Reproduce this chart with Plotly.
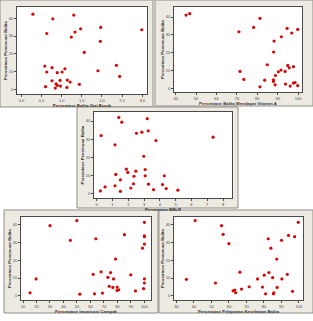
import plotly.graph_objects as go

W, H = 313, 321

# ---------- data ----------
y_label = "Persentase Penemuan Balita"

gizi_buruk_x = [0.285, 1.30, 0.78, 0.63, 1.47, 1.97, 1.33, 1.24, 1.96, 2.99, 1.56, 0.58, 0.76, 0.63, 0.89, 1.01,
                1.08, 1.90, 2.36, 2.44, 0.76, 0.96, 1.14, 1.21, 0.86, 0.89, 0.84, 0.97, 0.60, 1.13, 1.44]
gizi_buruk_y = [42.2, 41.7, 39.6, 31.4, 34.0, 34.8, 32.2, 29.4, 27.0, 33.5, 20.8, 13.2, 12.3, 9.9, 9.5, 9.9,
                11.7, 10.6, 13.6, 7.4, 5.0, 5.2, 5.4, 4.3, 3.3, 2.4, 0.9, 2.0, 1.7, 1.3, 3.0]

vitamin_a_x = [45.1, 46.9, 81.3, 78.2, 71.0, 94.6, 96.9, 99.8, 91.8, 88.2, 88.0, 84.9, 71.5, 73.4, 83.6, 87.9,
               87.9, 88.9, 90.3, 91.6, 93.6, 94.9, 95.6, 97.7, 81.3, 88.7, 93.8, 96.1, 97.7, 98.5, 99.8]
vitamin_a_y = [41.1, 41.9, 39.3, 34.2, 31.8, 33.7, 31.1, 33.1, 29.0, 26.6, 20.5, 13.4, 9.7, 5.2, 4.8, 5.0,
               4.1, 7.4, 9.5, 10.4, 9.7, 13.0, 11.7, 12.3, 1.1, 2.2, 2.6, 1.5, 3.2, 3.5, 1.7]

bblr_x = [1.40, 3.20, 1.59, 0.28, 2.52, 2.86, 3.26, 3.75, 1.16, 7.37, 2.98, 1.88, 1.97, 2.48, 1.21, 2.36,
          3.07, 3.07, 4.28, 1.50, 2.33, 3.28, 4.17, 1.16, 0.53, 2.16, 4.40, 0.23, 1.50, 3.60, 5.14]
bblr_y = [42.0, 41.3, 39.4, 32.0, 33.3, 33.9, 34.6, 29.3, 26.9, 31.1, 20.6, 13.5, 11.7, 12.4, 10.6, 9.6,
          13.3, 9.8, 9.8, 7.6, 5.4, 5.2, 5.0, 4.3, 3.7, 3.1, 2.8, 1.5, 1.3, 2.2, 1.9]

campak_x = [49.9, 30.0, 100, 85.2, 100, 100, 45.1, 64.0, 100, 98.6, 78.6, 74.9, 67.9, 62.0, 89.9, 72.9,
            77.1, 19.7, 100, 100, 73.9, 76.6, 79.8, 79.8, 81.0, 93.4, 99.4, 15.2, 52.1, 63.0, 68.9]
campak_y = [42.5, 39.6, 41.5, 34.5, 33.9, 33.4, 31.3, 32.2, 29.2, 26.9, 20.7, 13.1, 13.5, 12.1, 11.8, 10.4,
            9.5, 9.5, 9.5, 7.2, 5.3, 4.7, 4.9, 3.0, 3.4, 2.7, 4.0, 1.7, 0.9, 1.1, 1.5]

pelayanan_x = [40.7, 99.7, 55.8, 56.7, 60.0, 82.5, 90.1, 94.1, 97.6, 84.0, 87.4, 66.3, 82.9, 80.2, 93.4, 85.0,
               76.4, 90.3, 35.7, 52.3, 71.6, 79.2, 87.6, 67.2, 63.4, 62.4, 63.9, 81.0, 85.5, 85.7, 96.4]
pelayanan_y = [42.5, 41.5, 39.6, 34.7, 29.4, 32.2, 31.3, 34.1, 33.4, 26.9, 20.7, 13.3, 13.1, 11.6, 12.1, 10.2,
               9.5, 9.5, 9.3, 7.2, 5.1, 4.9, 4.7, 3.8, 3.2, 2.8, 1.7, 1.1, 1.1, 1.7, 2.5]

x_titles = ["Persentase Balita Gizi Buruk", "Persentase Balita Mendapat Vitamin A", "Persentase BBLR",
            "Persentase Imunisasi Campak", "Persentase Pelayanan Kesehatan Balita"]
x_ticks = [[0.0, 0.5, 1.0, 1.5, 2.0, 2.5, 3.0],
           [40, 50, 60, 70, 80, 90, 100],
           [0, 1, 2, 3, 4, 5, 6, 7, 8],
           [10, 20, 30, 40, 50, 60, 70, 80, 90, 100],
           [30, 40, 50, 60, 70, 80, 90, 100]]
y_ticks = [0, 10, 20, 30, 40]

series = [(gizi_buruk_x, gizi_buruk_y), (vitamin_a_x, vitamin_a_y), (bblr_x, bblr_y),
          (campak_x, campak_y), (pelayanan_x, pelayanan_y)]

# ---------- layout geometry (pixels) ----------
# plot frames: (left, right, top, bottom)
frames = [(17, 147, 7, 94), (174, 302, 7, 92), (94, 232, 112, 198), (21, 151, 217, 300), (174, 303, 217, 300)]
# beige panels: (left, right, top, bottom)
panels = [(0, 153, 0, 107), (155, 313, 0, 106), (77, 238, 107, 208), (4, 158, 210, 313), (159, 313, 210, 313)]
x_ranges = [[-0.11, 3.12], [39.2, 101.9], [-0.17, 8.57], [8.5, 104.9], [28.6, 102.4]]
y_ranges = [[-2.4, 46.2], [-1.8, 45.6], [-2.4, 45.0], [-2.4, 44.5], [-2.4, 44.5]]
x_fmt = [".1f", "d", "d", "d", "d"]


def px_x(p):
    return p / W


def px_y(p):
    return 1 - p / H


fig = go.Figure()
shapes = []
for (l, r, t, b) in panels:
    shapes.append(dict(type="rect", xref="paper", yref="paper", x0=px_x(l), x1=px_x(r), y0=px_y(b), y1=px_y(t),
                       fillcolor="#edeae2", line=dict(color="#8f8d86", width=1), layer="below"))
for (l, r, t, b) in frames:
    shapes.append(dict(type="rect", xref="paper", yref="paper", x0=px_x(l), x1=px_x(r), y0=px_y(b), y1=px_y(t),
                       fillcolor="white", line=dict(width=0), layer="below"))

layout = dict(width=W, height=H, margin=dict(l=0, r=0, t=0, b=0), paper_bgcolor="white",
              plot_bgcolor="rgba(0,0,0,0)", showlegend=False, shapes=shapes,
              font=dict(family="Liberation Sans, Arial, sans-serif", color="#333"))

for i, ((xs, ys), (l, r, t, b)) in enumerate(zip(series, frames)):
    n = "" if i == 0 else str(i + 1)
    fig.add_trace(go.Scatter(x=xs, y=ys, mode="markers", xaxis="x" + n, yaxis="y" + n,
                             marker=dict(color="#d10a0a", size=3.2, symbol="circle", line=dict(width=0)),
                             hoverinfo="skip"))
    common = dict(showgrid=False, zeroline=False, showline=True, mirror=True, linecolor="#4a4a4a", linewidth=1,
                  ticks="outside", ticklen=2, tickwidth=0.7, tickcolor="#4a4a4a",
                  tickfont=dict(size=4, color="#444"))
    layout["xaxis" + n] = dict(common, domain=[px_x(l), px_x(r)], anchor="y" + n, range=x_ranges[i],
                               tickmode="array", tickvals=x_ticks[i],
                               ticktext=[format(v, x_fmt[i]) for v in x_ticks[i]],
                               title=dict(text="<b>" + x_titles[i] + "</b>", font=dict(size=4.3, color="#333"),
                                          standoff=1))
    layout["yaxis" + n] = dict(common, domain=[px_y(b), px_y(t)], anchor="x" + n, range=y_ranges[i],
                               tickmode="array", tickvals=y_ticks,
                               title=dict(text="<b>" + y_label + "</b>", font=dict(size=4.3, color="#333"),
                                          standoff=1))

fig.update_layout(**layout)
fig.write_html("out.html")
